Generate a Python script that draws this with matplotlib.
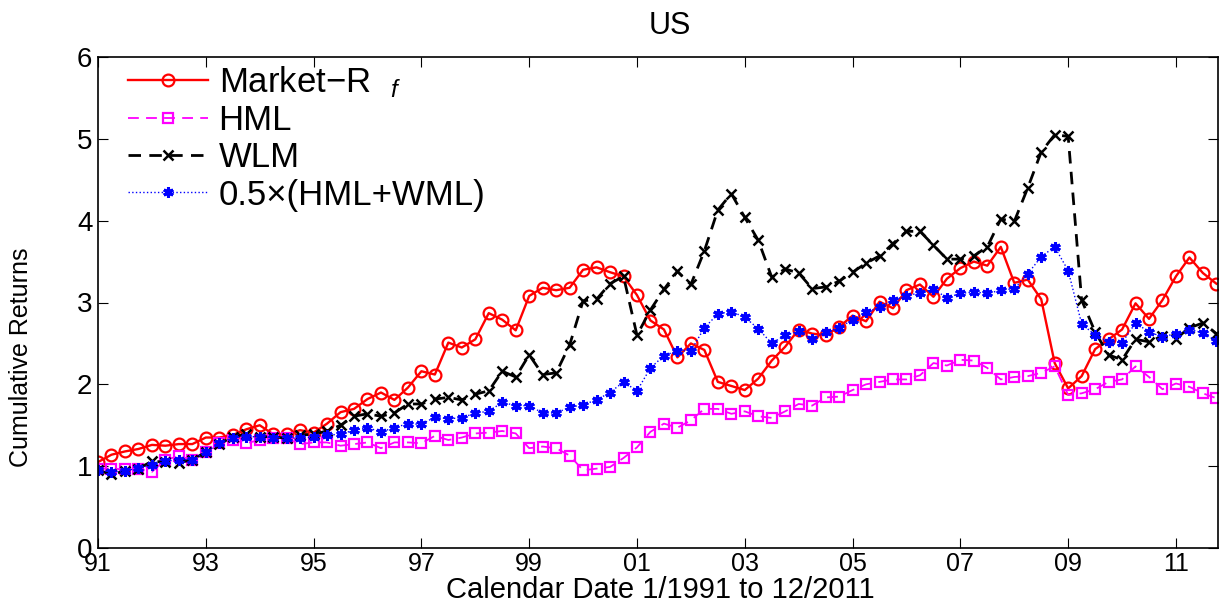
import numpy as np
import matplotlib.pyplot as plt

# Quarterly cumulative returns, 1/1991 .. 12/2011
market = [1.05, 1.14, 1.18, 1.21, 1.26, 1.25, 1.27, 1.27, 1.35, 1.35,
          1.38, 1.45, 1.50, 1.39, 1.39, 1.44, 1.41, 1.52, 1.66, 1.70,
          1.82, 1.90, 1.81, 1.96, 2.16, 2.12, 2.51, 2.45, 2.55, 2.87,
          2.79, 2.66, 3.08, 3.18, 3.15, 3.18, 3.40, 3.43, 3.37, 3.32,
          3.09, 2.78, 2.67, 2.33, 2.50, 2.42, 2.03, 1.98, 1.93, 2.07,
          2.29, 2.46, 2.67, 2.62, 2.60, 2.70, 2.84, 2.77, 3.01, 2.93,
          3.15, 3.22, 3.07, 3.29, 3.42, 3.50, 3.45, 3.68, 3.24, 3.28,
          3.04, 2.26, 1.95, 2.10, 2.43, 2.55, 2.67, 2.99, 2.80, 3.03,
          3.32, 3.55, 3.36, 3.23]
hml = [0.97, 0.97, 0.96, 0.97, 0.93, 1.08, 1.12, 1.08, 1.17, 1.28,
       1.32, 1.28, 1.32, 1.34, 1.34, 1.27, 1.29, 1.29, 1.25, 1.27,
       1.29, 1.22, 1.29, 1.29, 1.28, 1.37, 1.32, 1.35, 1.40, 1.41,
       1.43, 1.40, 1.22, 1.24, 1.22, 1.13, 0.95, 0.97, 0.99, 1.10,
       1.23, 1.42, 1.52, 1.47, 1.56, 1.70, 1.70, 1.64, 1.67, 1.61,
       1.59, 1.67, 1.76, 1.74, 1.84, 1.85, 1.93, 2.00, 2.03, 2.06,
       2.06, 2.11, 2.26, 2.23, 2.30, 2.29, 2.20, 2.06, 2.09, 2.10,
       2.14, 2.22, 1.87, 1.89, 1.94, 2.03, 2.06, 2.22, 2.09, 1.94,
       2.01, 1.97, 1.89, 1.83]
wlm = [0.95, 0.90, 0.94, 0.97, 1.06, 1.05, 1.04, 1.08, 1.17, 1.27,
       1.36, 1.39, 1.36, 1.36, 1.34, 1.38, 1.39, 1.43, 1.50, 1.61,
       1.64, 1.61, 1.65, 1.76, 1.76, 1.82, 1.84, 1.81, 1.88, 1.92,
       2.16, 2.09, 2.36, 2.12, 2.14, 2.48, 3.02, 3.04, 3.23, 3.32,
       2.60, 2.91, 3.16, 3.38, 3.22, 3.63, 4.13, 4.33, 4.04, 3.76,
       3.31, 3.41, 3.36, 3.17, 3.19, 3.26, 3.37, 3.48, 3.57, 3.72,
       3.87, 3.87, 3.70, 3.53, 3.53, 3.57, 3.68, 4.02, 3.99, 4.40,
       4.84, 5.05, 5.03, 3.03, 2.64, 2.36, 2.30, 2.55, 2.52, 2.59,
       2.56, 2.69, 2.75, 2.62]
combo = [0.95, 0.93, 0.94, 0.98, 1.01, 1.06, 1.08, 1.08, 1.17, 1.28,
         1.35, 1.36, 1.36, 1.35, 1.35, 1.34, 1.36, 1.38, 1.39, 1.44,
         1.47, 1.42, 1.47, 1.52, 1.51, 1.60, 1.58, 1.59, 1.65, 1.67,
         1.78, 1.74, 1.74, 1.65, 1.65, 1.72, 1.75, 1.81, 1.90, 2.03,
         1.92, 2.20, 2.35, 2.41, 2.41, 2.69, 2.86, 2.89, 2.82, 2.68,
         2.50, 2.60, 2.65, 2.55, 2.64, 2.69, 2.79, 2.88, 2.94, 3.03,
         3.08, 3.12, 3.16, 3.06, 3.11, 3.13, 3.11, 3.15, 3.17, 3.35,
         3.56, 3.68, 3.39, 2.74, 2.60, 2.52, 2.51, 2.75, 2.64, 2.58,
         2.62, 2.67, 2.63, 2.53]

dates = 1991 + np.arange(len(market)) / 4.0
tick_years = [1991, 1993, 1995, 1997, 1999, 2001, 2003, 2005, 2007, 2009, 2011]
tick_labels = ['91', '93', '95', '97', '99', '01', '03', '05', '07', '09', '11']

plt.rcParams['font.family'] = ['Liberation Sans', 'DejaVu Sans']
plt.rcParams['mathtext.fontset'] = 'custom'
plt.rcParams['mathtext.rm'] = 'Liberation Sans'
plt.rcParams['mathtext.it'] = 'Liberation Sans:italic'

fig = plt.figure(figsize=(12.19, 6.05), dpi=100)
ax = fig.add_axes([98 / 1219, 1 - 548 / 605, 1120 / 1219, 491 / 605])

ax.plot(dates, market, color='red', lw=1.7, marker='o', ms=8.5,
        mfc='none', mew=1.6, label='Market\u2212R  $_{f}$')
ax.plot(dates, hml, color='magenta', lw=1.3, ls=(0, (6, 4)), marker='s',
        ms=6.5, mfc='none', mew=1.6, label='HML')
ax.plot(dates, wlm, color='black', lw=2, ls=(0, (4.5, 3)), marker='x',
        ms=6.5, mew=1.8, label='WLM')
ax.plot(dates, combo, color='blue', lw=1, ls=':', marker=(6, 2, 0),
        ms=7.5, mew=2.2, label='0.5\u00d7(HML+WML)')

ax.set_xlim(1991, 2011.78)
ax.set_ylim(0, 6)
ax.set_xticks(tick_years)
ax.set_xticklabels(tick_labels)
ax.set_yticks(range(7))
ax.tick_params(direction='in', length=7, width=0.8, top=True, right=True,
               labelsize=20, pad=4)
ax.tick_params(axis='x', labelsize=18, pad=3)
for s in ax.spines.values():
    s.set_linewidth(1.2)

fig.text(670 / 1219, 1 - 26 / 605, 'US', ha='center', va='center', fontsize=22)

ax.set_ylabel('Cumulative Returns', fontsize=18)
ax.yaxis.set_label_coords(-0.058, 0.389)
ax.set_xlabel('Calendar Date 1/1991 to 12/2011', fontsize=21)
ax.xaxis.label.set_va('baseline')
ax.xaxis.set_label_coords(0.502, -0.1018)

ax.legend(loc='upper left', bbox_to_anchor=(0.027, 0.985), frameon=False,
          fontsize=25, handlelength=2.3, handletextpad=0.3, labelspacing=0.12,
          borderpad=0, borderaxespad=0)

fig.savefig('out.png', dpi=100)
